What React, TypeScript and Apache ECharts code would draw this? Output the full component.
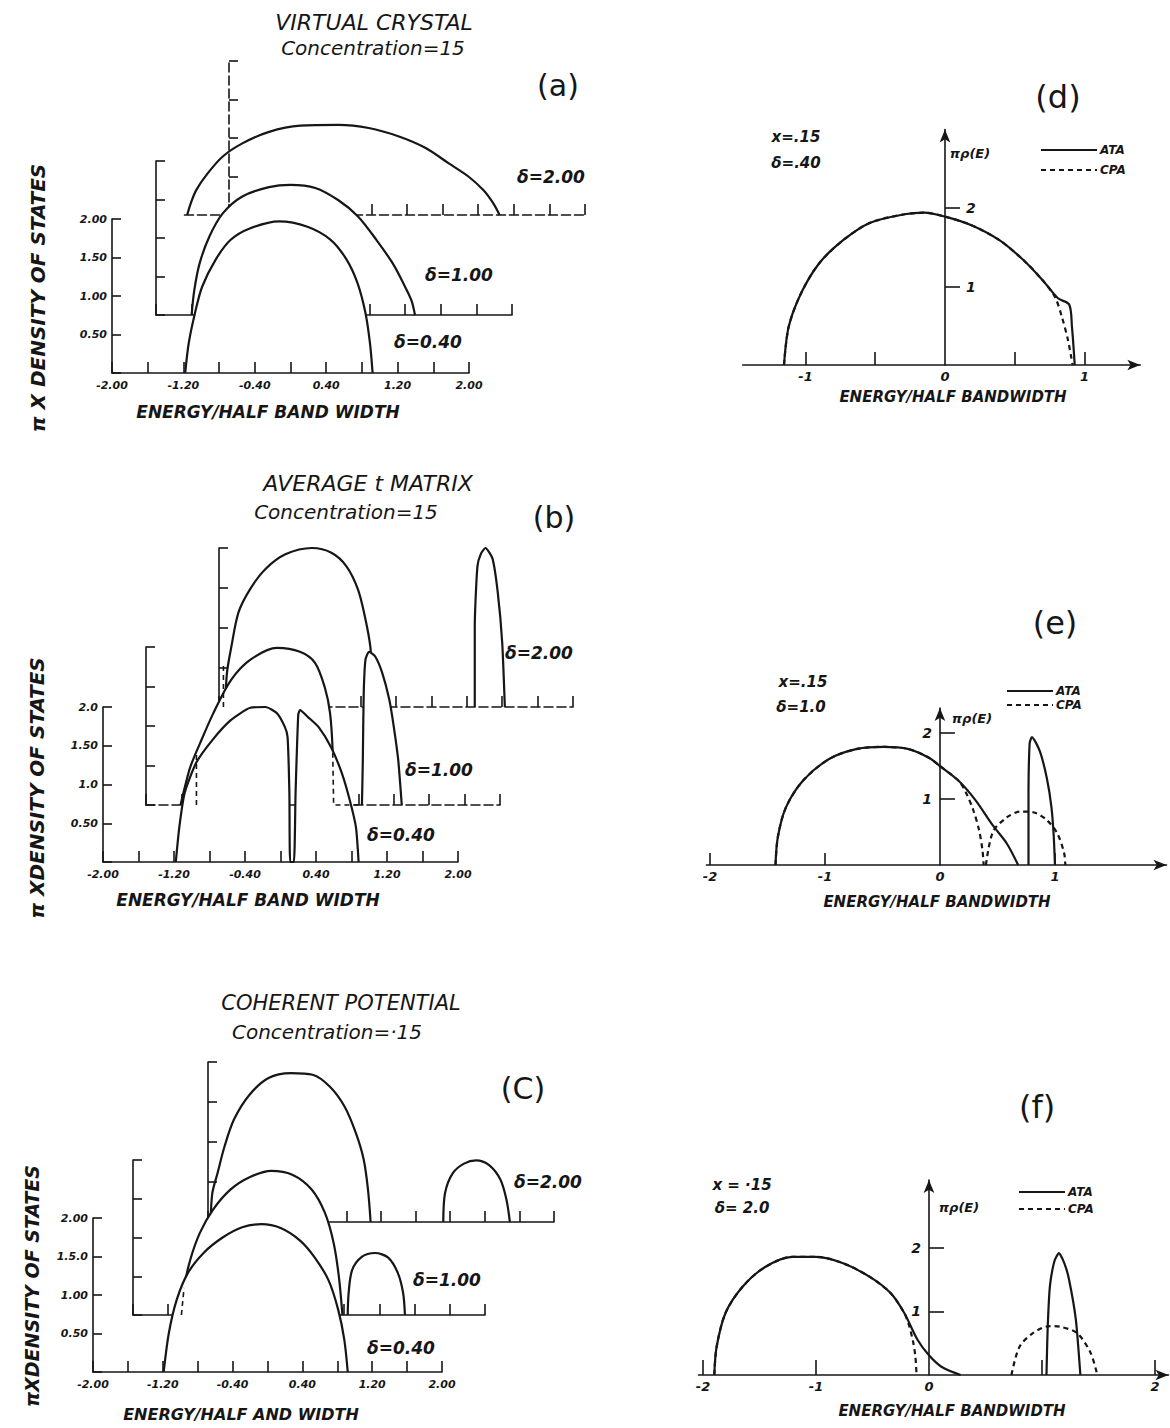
import React, { useEffect, useRef } from "react";
import * as echarts from "echarts";

const INK = "#161616";
const FONT = "DejaVu Sans, Liberation Sans, sans-serif";

// ---------------- (a) VIRTUAL CRYSTAL, concentration .15 ----------------
const vcaDelta040 = [[-1.18, 0], [-1.14, 0.39], [-1.07, 0.78], [-0.99, 1.12], [-0.84, 1.47], [-0.67, 1.73], [-0.45, 1.88], [-0.13, 1.97], [0.19, 1.9], [0.45, 1.73], [0.63, 1.47], [0.75, 1.17], [0.84, 0.78], [0.89, 0.39], [0.92, 0]];
const vcaDelta100 = [[-1.6, 0], [-1.57, 0.32], [-1.51, 0.67], [-1.4, 1.02], [-1.25, 1.32], [-1.03, 1.54], [-0.73, 1.66], [-0.49, 1.69], [-0.21, 1.65], [0.05, 1.49], [0.27, 1.28], [0.48, 0.97], [0.66, 0.67], [0.78, 0.41], [0.87, 0.19], [0.91, 0]];
const vcaDelta200 = [[-2.47, 0], [-2.43, 0.15], [-2.37, 0.32], [-2.24, 0.54], [-2.07, 0.76], [-1.85, 0.93], [-1.55, 1.08], [-1.2, 1.16], [-0.77, 1.17], [-0.43, 1.13], [-0.09, 1.02], [0.21, 0.87], [0.47, 0.67], [0.69, 0.5], [0.86, 0.32], [0.97, 0.15], [1.04, 0]];

// ---------------- (b) AVERAGE t MATRIX ----------------
const ataDelta040 = [[-1.18, 0], [-1.14, 0.45], [-1.08, 0.89], [-0.95, 1.28], [-0.77, 1.57], [-0.56, 1.83], [-0.34, 1.99], [-0.17, 2.0], [-0.04, 1.92], [0.05, 1.74], [0.08, 1.61], [0.1, 0.89], [0.11, 0], [0.15, 0], [0.17, 0.9], [0.2, 1.9], [0.22, 1.96], [0.31, 1.87], [0.43, 1.74], [0.57, 1.48], [0.69, 1.15], [0.78, 0.8], [0.85, 0.45], [0.88, 0]];
const ataDelta100 = [[-1.61, 0], [-1.56, 0.23], [-1.5, 0.48], [-1.39, 0.78], [-1.24, 1.16], [-1.04, 1.58], [-0.82, 1.84], [-0.52, 1.99], [-0.26, 1.94], [-0.09, 1.8], [0.02, 1.49], [0.08, 1.16], [0.11, 0.66], [0.12, 0]];
const ataDelta100Impurity = [[0.44, 0], [0.45, 0.57], [0.46, 1.41], [0.48, 1.84], [0.52, 1.94], [0.59, 1.88], [0.67, 1.67], [0.75, 1.33], [0.8, 0.99], [0.85, 0.57], [0.89, 0]];
const cpaDelta100EdgeLeft = [[-1.43, 0], [-1.43, 0.66]];
const cpaDelta100EdgeRight = [[0.11, 0.66], [0.12, 0], [0.44, 0]];
const ataDelta200 = [[-1.93, 0], [-1.91, 0.43], [-1.86, 0.76], [-1.78, 1.19], [-1.65, 1.48], [-1.48, 1.73], [-1.25, 1.92], [-0.95, 2.0], [-0.73, 1.94], [-0.56, 1.77], [-0.43, 1.48], [-0.35, 1.13], [-0.29, 0.76], [-0.27, 0.38], [-0.25, 0]];
const ataDelta200Impurity = [[0.89, 0], [0.89, 1.01], [0.92, 1.77], [0.96, 1.93], [1.01, 2.0], [1.09, 1.87], [1.15, 1.44], [1.2, 0.81], [1.23, 0]];
const cpaDelta200Edge = [[-1.95, 0], [-1.95, 0.55]];

// ---------------- (c) COHERENT POTENTIAL ----------------
const cpaDelta040 = [[-1.19, 0], [-1.13, 0.51], [-1.04, 0.94], [-0.91, 1.29], [-0.73, 1.55], [-0.51, 1.75], [-0.29, 1.88], [-0.07, 1.92], [0.15, 1.87], [0.37, 1.71], [0.54, 1.49], [0.7, 1.19], [0.81, 0.81], [0.88, 0.42], [0.92, 0]];
const cpaDelta100 = [[-1.45, 0], [-1.42, 0.35], [-1.35, 0.71], [-1.24, 1.06], [-1.09, 1.36], [-0.89, 1.62], [-0.67, 1.78], [-0.43, 1.86], [-0.19, 1.81], [0.03, 1.62], [0.18, 1.32], [0.28, 0.93], [0.34, 0.49], [0.38, 0]];
const cpaDelta100Impurity = [[0.44, 0], [0.45, 0.28], [0.49, 0.58], [0.6, 0.75], [0.75, 0.8], [0.9, 0.74], [1.01, 0.54], [1.07, 0.28], [1.09, 0]];
const cpaDelta100Tail = [[-1.45, 0], [-1.42, 0.35]];
const cpaDelta200 = [[-1.97, 0], [-1.95, 0.36], [-1.89, 0.61], [-1.81, 0.94], [-1.7, 1.28], [-1.52, 1.59], [-1.3, 1.8], [-1.04, 1.86], [-0.79, 1.84], [-0.59, 1.69], [-0.42, 1.44], [-0.29, 1.11], [-0.2, 0.78], [-0.15, 0.4], [-0.12, 0]];
const cpaDelta200Impurity = [[0.72, 0], [0.74, 0.36], [0.83, 0.61], [0.96, 0.73], [1.1, 0.77], [1.25, 0.71], [1.38, 0.53], [1.45, 0.28], [1.49, 0]];

// ---------------- (d) x=.15, delta=.40 ----------------
const dAta = [[-1.154, 0], [-1.12, 0.49], [-1.03, 0.92], [-0.9, 1.3], [-0.73, 1.59], [-0.54, 1.81], [-0.29, 1.92], [-0.15, 1.94], [0, 1.89], [0.19, 1.78], [0.39, 1.59], [0.56, 1.34], [0.7, 1.08], [0.81, 0.85], [0.89, 0.77], [0.91, 0.49], [0.93, 0]];
const dCpa = [[-1.154, 0], [-1.12, 0.49], [-1.03, 0.92], [-0.9, 1.3], [-0.73, 1.59], [-0.54, 1.81], [-0.29, 1.92], [-0.15, 1.94], [0, 1.89], [0.19, 1.78], [0.39, 1.59], [0.56, 1.34], [0.7, 1.08], [0.79, 0.86], [0.84, 0.6], [0.88, 0.33], [0.905, 0.1], [0.915, 0]];

// ---------------- (e) x=.15, delta=1.0 ----------------
const eAta = [[-1.43, 0], [-1.41, 0.42], [-1.34, 0.87], [-1.19, 1.28], [-0.96, 1.61], [-0.72, 1.76], [-0.49, 1.79], [-0.28, 1.76], [-0.1, 1.63], [0, 1.5], [0.16, 1.28], [0.31, 0.98], [0.46, 0.6], [0.58, 0.33], [0.68, 0]];
const eAtaImpurity = [[0.77, 0], [0.77, 1.0], [0.78, 1.85], [0.8, 1.94], [0.87, 1.72], [0.93, 1.31], [0.97, 0.87], [0.99, 0.42], [1.0, 0]];
const eCpa = [[-1.43, 0], [-1.41, 0.42], [-1.34, 0.87], [-1.19, 1.28], [-0.96, 1.61], [-0.72, 1.76], [-0.49, 1.79], [-0.28, 1.76], [-0.1, 1.63], [0, 1.5], [0.16, 1.28], [0.22, 1.12], [0.29, 0.83], [0.34, 0.53], [0.37, 0.22], [0.38, 0]];
const eCpaImpurity = [[0.4, 0], [0.46, 0.5], [0.58, 0.72], [0.7, 0.81], [0.81, 0.8], [0.93, 0.68], [1.02, 0.48], [1.08, 0.18], [1.09, 0]];

// ---------------- (f) x=.15, delta=2.0 ----------------
const fAta = [[-1.9, 0], [-1.88, 0.44], [-1.8, 0.98], [-1.65, 1.39], [-1.45, 1.7], [-1.21, 1.86], [-1.0, 1.86], [-0.76, 1.76], [-0.52, 1.54], [-0.34, 1.29], [-0.22, 0.98], [-0.1, 0.55], [0, 0.31], [0.11, 0.13], [0.28, 0]];
const fAtaImpurity = [[1.04, 0], [1.05, 0.71], [1.07, 1.39], [1.11, 1.79], [1.15, 1.92], [1.2, 1.75], [1.24, 1.5], [1.3, 0.87], [1.34, 0]];
const fCpa = [[-1.9, 0], [-1.88, 0.44], [-1.8, 0.98], [-1.65, 1.39], [-1.45, 1.7], [-1.21, 1.86], [-1.0, 1.86], [-0.76, 1.76], [-0.52, 1.54], [-0.34, 1.29], [-0.22, 0.98], [-0.18, 0.8], [-0.14, 0.52], [-0.12, 0.28], [-0.11, 0]];
const fCpaImpurity = [[0.73, 0], [0.8, 0.44], [0.92, 0.66], [1.07, 0.77], [1.16, 0.76], [1.31, 0.66], [1.43, 0.35], [1.49, 0]];

// ---------------- ticks and tick labels ----------------
const LEFT_X_TICKS = [-2, -1.6, -1.2, -0.8, -0.4, 0, 0.4, 0.8, 1.2, 1.6, 2];
const LEFT_X_TICK_LABELS = ["-2.00", "-1.20", "-0.40", "0.40", "1.20", "2.00"];
const Y_TICK_LABELS_A = ["0.50", "1.00", "1.50", "2.00"];
const Y_TICK_LABELS_B = ["0.50", "1.0", "1.50", "2.0"];
const Y_TICK_LABELS_C = ["0.50", "1.00", "1.5.0", "2.00"];
const D_X_TICKS = [-1, -0.5, 0.5, 1];
const D_X_LABELS = [-1, 0, 1];
const E_X_TICKS = [-2, -1, 1];
const E_X_LABELS = [-2, -1, 0, 1];
const F_X_TICKS = [-2, -1, 1, 2];
const F_X_LABELS = [-2, -1, 0, 2];
const RIGHT_Y_TICKS = [1, 2];

const lineSty = (dash?: boolean) => ({ color: INK, width: 1.6, type: dash ? [9, 4] : "solid" });
const labelFont = { color: INK, fontFamily: FONT, fontStyle: "italic", fontWeight: "bold" };

function leftX(gi: number, z: number, showLabels: boolean, dashed: boolean, min = -2) {
  const custom = min !== -2;
  return {
    type: "value", gridIndex: gi, min, max: 2, z,
    ...(custom ? {} : { interval: 0.4 }),
    axisLine: { show: true, onZero: false, lineStyle: lineSty(dashed) },
    axisTick: { show: true, inside: true, length: 11, lineStyle: { color: INK, width: 1.6 }, ...(custom ? { customValues: LEFT_X_TICKS } : {}) },
    axisLabel: {
      show: showLabels, margin: 7, fontSize: 11, ...labelFont, showMinLabel: true, showMaxLabel: true,
      formatter: (v: number) => {
        const k = Math.round((v + 2) / 0.4);
        return k % 2 === 0 ? LEFT_X_TICK_LABELS[k / 2] : "";
      },
    },
    splitLine: { show: false },
  };
}

function leftY(gi: number, z: number, labels: string[] | null, dashed: boolean, offset = 0) {
  return {
    type: "value", gridIndex: gi, min: 0, max: 2, interval: 0.5, z, offset,
    axisLine: { show: true, onZero: false, lineStyle: lineSty(dashed) },
    axisTick: { show: true, inside: true, length: 9, lineStyle: { color: INK, width: 1.6 } },
    axisLabel: {
      show: !!labels, margin: 5, fontSize: 11, ...labelFont, showMaxLabel: true,
      formatter: (v: number) => {
        const k = Math.round(v / 0.5);
        return k === 0 || !labels ? "" : labels[k - 1];
      },
    },
    splitLine: { show: false },
  };
}

function rightX(gi: number, min: number, max: number, ticks: number[], labels: number[], tickLen: number) {
  return {
    type: "value", gridIndex: gi, min, max, z: 3,
    axisLine: { show: true, onZero: false, symbol: ["none", "arrow"], symbolSize: [8, 13], lineStyle: lineSty(false) },
    axisTick: { show: true, inside: true, length: tickLen, customValues: ticks, lineStyle: { color: INK, width: 1.6 } },
    axisLabel: { show: true, customValues: labels, margin: 5, fontSize: 13, ...labelFont, formatter: (v: number) => String(v) },
    splitLine: { show: false },
  };
}

function rightY(gi: number, max: number, inside: boolean, offset: number) {
  return {
    type: "value", gridIndex: gi, min: 0, max, z: 3, offset,
    axisLine: { show: true, onZero: false, symbol: ["none", "arrow"], symbolSize: [8, 13], lineStyle: lineSty(false) },
    axisTick: { show: true, inside: true, length: 15, customValues: RIGHT_Y_TICKS, lineStyle: { color: INK, width: 1.6 } },
    axisLabel: { show: true, inside, customValues: RIGHT_Y_TICKS, margin: inside ? 21 : 8, fontSize: 14, ...labelFont, formatter: (v: number) => String(v) },
    splitLine: { show: false },
  };
}

function curve(name: string, data: number[][], idx: number, z: number, o: { fill?: boolean; dashed?: boolean; width?: number; smooth?: number } = {}) {
  return {
    type: "line", name, data, xAxisIndex: idx, yAxisIndex: idx,
    symbol: "none", showSymbol: false, smooth: o.smooth ?? 0.3, clip: false, silent: true,
    emphasis: { disabled: true },
    itemStyle: { color: INK },
    lineStyle: { color: INK, width: o.width ?? 2.2, type: o.dashed ? [5, 4] : "solid" },
    areaStyle: o.fill ? { color: "#ffffff", opacity: 1 } : undefined,
    z,
  };
}

function txt(x: number, y: number, text: string, size: number, o: { bold?: boolean; italic?: boolean; rot?: number } = {}) {
  return {
    type: "text", x, y, z: 60, silent: true, rotation: o.rot ?? 0,
    style: {
      text, fontSize: size, fontFamily: FONT,
      fontStyle: o.italic === false ? "normal" : "italic",
      fontWeight: o.bold ? "bold" : "normal",
      fill: INK, align: "center", verticalAlign: "middle",
    },
  };
}

function legendAt(left: number, top: number, gap: number, width: number) {
  return {
    show: true, data: ["ATA", "CPA"], orient: "vertical", left, top, itemGap: gap,
    itemWidth: width, itemHeight: 8, selectedMode: false,
    itemStyle: { color: "rgba(0,0,0,0)", borderWidth: 0, opacity: 0 },
    textStyle: { fontSize: 12, ...labelFont, padding: [0, 0, 0, -2] },
  };
}

// y-axis placed at a given x value of its panel, computed from the axis range and the grid width
const zeroOffset = (min: number, max: number, width: number, at = 0) => -((at - min) / (max - min)) * width;

function buildOption() {
  const sz = (L: number) => 2 + 3 * L;
  const az = (L: number) => 3 + 3 * L;
  const grids = [
    { left: 184.5, top: 61, width: 400.5, height: 154 },
    { left: 156, top: 161, width: 356, height: 154 },
    { left: 112, top: 219, width: 357, height: 154 },
    { left: 219, top: 548, width: 354, height: 159 },
    { left: 146, top: 647, width: 354, height: 158 },
    { left: 103, top: 707, width: 355, height: 155 },
    { left: 208, top: 1062, width: 346, height: 160 },
    { left: 133, top: 1160, width: 352, height: 155 },
    { left: 93, top: 1218, width: 349, height: 154 },
    { left: 742.7, top: 129.5, width: 397.6, height: 235.5 },
    { left: 706.5, top: 708, width: 460, height: 157 },
    { left: 698.5, top: 1180, width: 470, height: 195 },
  ];
  const xAxis = [
    leftX(0, az(0), false, true, -2.5), leftX(1, az(1), false, false), leftX(2, az(2), true, false),
    leftX(3, az(0), false, true), leftX(4, az(1), false, true), leftX(5, az(2), true, false),
    leftX(6, az(0), false, false), leftX(7, az(1), false, false), leftX(8, az(2), true, false),
    rightX(9, -1.45, 1.4, D_X_TICKS, D_X_LABELS, 13),
    rightX(10, -2.03, 1.97, E_X_TICKS, E_X_LABELS, 12),
    rightX(11, -2.04, 2.12, F_X_TICKS, F_X_LABELS, 15),
  ];
  const yAxis = [
    leftY(0, az(0), null, true, zeroOffset(-2.5, 2, 400.5, -2)), leftY(1, az(1), null, false), leftY(2, az(2), Y_TICK_LABELS_A, false),
    leftY(3, az(0), null, false), leftY(4, az(1), null, false), leftY(5, az(2), Y_TICK_LABELS_B, false),
    leftY(6, az(0), null, false), leftY(7, az(1), null, false), leftY(8, az(2), Y_TICK_LABELS_C, false),
    rightY(9, 3.0, true, zeroOffset(-1.45, 1.4, 397.6)),
    rightY(10, 2.38, false, zeroOffset(-2.03, 1.97, 460)),
    rightY(11, 3.07, false, zeroOffset(-2.04, 2.12, 470)),
  ];
  const series = [
    // (a)
    curve("VCA δ=2.00", vcaDelta200, 0, sz(0), { fill: true }),
    curve("VCA δ=1.00", vcaDelta100, 1, sz(1), { fill: true }),
    curve("VCA δ=0.40", vcaDelta040, 2, sz(2), { fill: true }),
    // (b)
    curve("ATA δ=2.00", ataDelta200, 3, sz(0), { fill: true }),
    curve("ATA δ=2.00 imp", ataDelta200Impurity, 3, sz(0), { fill: true, smooth: 0.2 }),
    curve("ATA δ=1.00", ataDelta100, 4, sz(1), { fill: true }),
    curve("ATA δ=1.00 imp", ataDelta100Impurity, 4, sz(1), { fill: true, smooth: 0.2 }),
    curve("ATA δ=0.40", ataDelta040, 5, sz(2), { fill: true, smooth: 0.2 }),
    curve("CPA edge b2", cpaDelta200Edge, 3, 20, { dashed: true, width: 1.6, smooth: 0 }),
    curve("CPA edge b1L", cpaDelta100EdgeLeft, 4, 20, { dashed: true, width: 1.6, smooth: 0 }),
    curve("CPA edge b1R", cpaDelta100EdgeRight, 4, 20, { dashed: true, width: 1.6, smooth: 0 }),
    // (c)
    curve("CPA δ=2.00", cpaDelta200, 6, sz(0), { fill: true }),
    curve("CPA δ=2.00 imp", cpaDelta200Impurity, 6, sz(0), { fill: true }),
    curve("CPA δ=1.00", cpaDelta100, 7, sz(1), { fill: true }),
    curve("CPA δ=1.00 imp", cpaDelta100Impurity, 7, sz(1), { fill: true }),
    curve("CPA δ=0.40", cpaDelta040, 8, sz(2), { fill: true }),
    curve("CPA tail c1", cpaDelta100Tail, 7, 20, { dashed: true, width: 1.6, smooth: 0 }),
    // (d)
    curve("CPA", dCpa, 9, 4, { dashed: true }),
    curve("ATA", dAta, 9, 5),
    // (e)
    curve("CPA", eCpa, 10, 4, { dashed: true }),
    curve("CPA", eCpaImpurity, 10, 4, { dashed: true }),
    curve("ATA", eAta, 10, 5),
    curve("ATA", eAtaImpurity, 10, 5, { smooth: 0.2 }),
    // (f)
    curve("CPA", fCpa, 11, 4, { dashed: true }),
    curve("CPA", fCpaImpurity, 11, 4, { dashed: true }),
    curve("ATA", fAta, 11, 5),
    curve("ATA", fAtaImpurity, 11, 5, { smooth: 0.2 }),
  ];
  const yTitle = (x: number, y: number, t: string, s = 20) => txt(x, y, t, s, { bold: true, rot: Math.PI / 2 });
  const elements = [
    // (a)
    txt(374, 22, "VIRTUAL CRYSTAL", 22),
    txt(373, 48, "Concentration=15", 20),
    txt(558, 85, "(a)", 30, { italic: false }),
    txt(551, 177, "δ=2.00", 17, { bold: true }),
    txt(459, 275, "δ=1.00", 17, { bold: true }),
    txt(428, 342, "δ=0.40", 17, { bold: true }),
    txt(268, 412, "ENERGY/HALF BAND WIDTH", 17, { bold: true }),
    yTitle(38, 298, "π X DENSITY OF STATES"),
    // (b)
    txt(368, 483, "AVERAGE t MATRIX", 22),
    txt(346, 512, "Concentration=15", 20),
    txt(554, 517, "(b)", 30, { italic: false }),
    txt(539, 653, "δ=2.00", 17, { bold: true }),
    txt(439, 770, "δ=1.00", 17, { bold: true }),
    txt(401, 835, "δ=0.40", 17, { bold: true }),
    txt(248, 900, "ENERGY/HALF BAND WIDTH", 17, { bold: true }),
    yTitle(37, 788, "π XDENSITY OF STATES"),
    // (c)
    txt(341, 1003, "COHERENT POTENTIAL", 21),
    txt(327, 1032, "Concentration=·15", 20),
    txt(523, 1088, "(C)", 30, { italic: false }),
    txt(548, 1182, "δ=2.00", 17, { bold: true }),
    txt(447, 1280, "δ=1.00", 17, { bold: true }),
    txt(401, 1348, "δ=0.40", 17, { bold: true }),
    txt(241, 1414, "ENERGY/HALF AND WIDTH", 16, { bold: true }),
    yTitle(32, 1286, "πXDENSITY OF STATES", 19),
    // (d)
    txt(1058, 97, "(d)", 32, { italic: false }),
    txt(796, 137, "x=.15", 15, { bold: true }),
    txt(796, 163, "δ=.40", 15, { bold: true }),
    txt(970, 153, "πρ(E)", 13, { bold: true }),
    txt(953, 397, "ENERGY/HALF BANDWIDTH", 15, { bold: true }),
    // (e)
    txt(1055, 623, "(e)", 32, { italic: false }),
    txt(803, 682, "x=.15", 15, { bold: true }),
    txt(801, 707, "δ=1.0", 15, { bold: true }),
    txt(972, 718, "πρ(E)", 13, { bold: true }),
    txt(937, 902, "ENERGY/HALF BANDWIDTH", 15, { bold: true }),
    // (f)
    txt(1037, 1107, "(f)", 32, { italic: false }),
    txt(742, 1185, "x = ·15", 15, { bold: true }),
    txt(742, 1208, "δ= 2.0", 15, { bold: true }),
    txt(959, 1207, "πρ(E)", 13, { bold: true }),
    txt(952, 1411, "ENERGY/HALF BANDWIDTH", 15, { bold: true }),
  ];
  return {
    animation: false,
    backgroundColor: "#ffffff",
    grid: grids,
    xAxis,
    yAxis,
    series,
    legend: [legendAt(1035, 139, 8, 56), legendAt(1001, 680, 2, 46), legendAt(1013, 1181, 5, 46)],
    graphic: { elements },
  };
}

export default function App() {
  const ref = useRef<HTMLDivElement>(null);
  useEffect(() => {
    if (!ref.current) return;
    const chart = echarts.init(ref.current, null, { renderer: "svg" });
    chart.setOption(buildOption() as any);
    return () => chart.dispose();
  }, []);
  return (
    <div
      ref={ref}
      style={{ position: "absolute", left: 0, top: 0, width: 1170, height: 1428, background: "#fff" }}
    />
  );
}
